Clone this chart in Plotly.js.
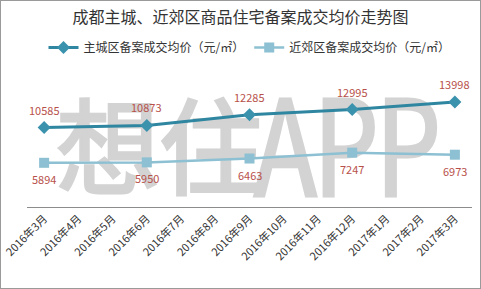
<!DOCTYPE html>
<html>
<head>
<meta charset="utf-8">
<script src="https://cdn.plot.ly/plotly-3.0.1.min.js"></script>
<style>
html,body{margin:0;padding:0;background:#fff;}
#wrap{position:relative;width:481px;height:289px;overflow:hidden;}
#frame{position:absolute;left:0;top:0;width:479px;height:287px;border:1px solid #9a9a9a;}
.wm{position:absolute;font-family:"Noto Sans CJK SC",sans-serif;font-weight:normal;color:#d3d3d3;white-space:nowrap;-webkit-text-stroke:3px #d3d3d3;}
#wm1{left:56px;top:88px;font-size:104px;line-height:108px;letter-spacing:-1px;}
#wm2{left:254px;top:99px;font-size:103px;line-height:105px;letter-spacing:-3px;transform:scaleY(1.29);transform-origin:0 98px;-webkit-text-stroke:2.5px #d3d3d3;}
#chart{position:absolute;left:0;top:0;width:481px;height:289px;}
</style>
</head>
<body>
<div id="wrap">
<div class="wm" id="wm1">想住</div>
<div class="wm" id="wm2">APP</div>
<div id="chart"></div>
<div id="frame"></div>
</div>
<script>
var months = ["2016年3月","2016年4月","2016年5月","2016年6月","2016年7月","2016年8月","2016年9月","2016年10月","2016年11月","2016年12月","2017年1月","2017年2月","2017年3月"];
var mainCity = [10585,null,null,10873,null,null,12285,null,null,12995,null,null,13998];
var suburb = [5894,null,null,5950,null,null,6463,null,null,7247,null,null,6973];
var mainName = "主城区备案成交均价（元/㎡）";
var subName = "近郊区备案成交均价（元/㎡）";

var font = "Noto Sans CJK SC, sans-serif";
var traces = [
  {x: months, y: mainCity, name: mainName, type: "scatter", mode: "lines+markers", connectgaps: true,
   line: {color: "#2f86a0", width: 3}, marker: {symbol: "diamond", size: 10, color: "#3a92ad"}},
  {x: months, y: suburb, name: subName, type: "scatter", mode: "lines+markers", connectgaps: true,
   line: {color: "#8cc0d2", width: 2.5}, marker: {symbol: "square", size: 10, color: "#8cc0d2"}}
];

var annotations = [];
months.forEach(function(m, i){
  if (mainCity[i] != null) annotations.push({x: m, y: mainCity[i], text: String(mainCity[i]), showarrow: false, yshift: 18, font: {family: font, size: 11, color: "#b8504a"}});
  if (suburb[i] != null) annotations.push({x: m, y: suburb[i], text: String(suburb[i]), showarrow: false, yshift: -16, font: {family: font, size: 11, color: "#b8504a"}});
});

var layout = {
  width: 481, height: 289,
  margin: {l: 27, r: 9, t: 87, b: 82},
  paper_bgcolor: "rgba(0,0,0,0)", plot_bgcolor: "rgba(0,0,0,0)",
  font: {family: font, color: "#333"},
  title: {text: "成都主城、近郊区商品住宅备案成交均价走势图", x: 0.5, xanchor: "center", y: 0.94, yanchor: "middle", font: {family: font, size: 16, color: "#333"}},
  showlegend: true,
  legend: {orientation: "h", x: 0.5, xanchor: "center", y: 1.33, yanchor: "middle", font: {family: font, size: 12, color: "#333"}, itemwidth: 30, tracegroupgap: 0, bgcolor: "rgba(0,0,0,0)"},
  xaxis: {type: "category", range: [-0.5, 12.5], tickangle: -45, showline: true, linecolor: "#8c8c8c", linewidth: 1, ticks: "", showgrid: false, zeroline: false, tickfont: {family: font, size: 11, color: "#333"}, fixedrange: true},
  yaxis: {range: [0, 16000], visible: false, showgrid: false, zeroline: false, fixedrange: true},
  annotations: annotations
};
Plotly.newPlot("chart", traces, layout, {displayModeBar: false, staticPlot: true});
</script>
</body>
</html>
